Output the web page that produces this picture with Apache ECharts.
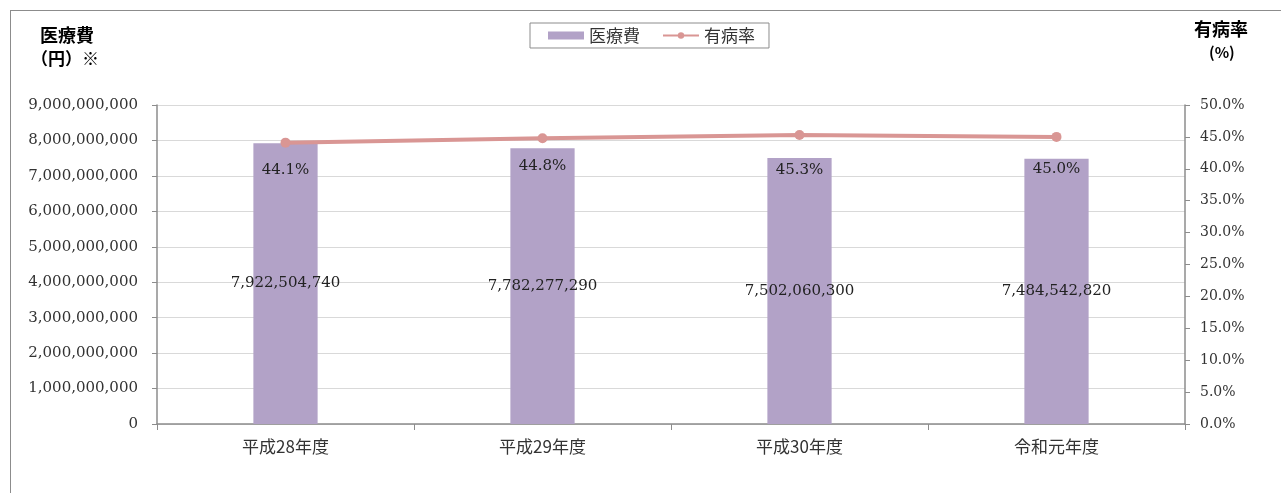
<!DOCTYPE html>
<html><head><meta charset="utf-8">
<script src="https://cdn.jsdelivr.net/npm/echarts@6/dist/echarts.min.js"></script>
<style>html,body{margin:0;padding:0;background:#fff}#frame{position:absolute;left:10px;top:10px;width:1300px;height:520px;border:1px solid #8c8c8c;box-sizing:border-box}#c{position:absolute;left:0;top:0;width:1281px;height:493px}</style>
</head><body><div id="frame"></div><div id="c"></div>
<script>
const categories = ['平成28年度','平成29年度','平成30年度','令和元年度'];
const costValues = [7922504740, 7782277290, 7502060300, 7484542820];
const rateValues = [44.1, 44.8, 45.3, 45.0];
const costName = '医療費';
const rateName = '有病率';

const serif = '"DejaVu Serif","Liberation Serif","Noto Sans CJK JP",serif';
const jp = '"Noto Sans CJK JP",sans-serif';
const labelGaps = [15, 15, 23, 20];
const chart = echarts.init(document.getElementById('c'));
chart.setOption({
  animation:false,
  textStyle:{fontFamily:serif},
  graphic:[
    {type:'text',left:40,top:26,style:{text:'医療費',font:'bold 18px '+jp,fill:'#000'}},
    {type:'text',left:31,top:50,style:{text:'（円）※',font:'bold 17px '+jp,fill:'#000'}},
    {type:'text',left:1194,top:20,style:{text:'有病率',font:'bold 18px '+jp,fill:'#000'}},
    {type:'text',left:1209,top:45,style:{text:'(%)',font:'bold 15px '+jp,fill:'#000'}}
  ],
  legend:{top:23,left:530,itemGap:22,itemWidth:36,itemHeight:8,padding:[4,14,4,18],
    borderColor:'#8c8c8c',borderWidth:1,
    textStyle:{fontFamily:jp,fontSize:17,color:'#333'},
    data:[{name:costName,icon:'rect'},{name:rateName}]},
  grid:{left:157,right:96,top:105,bottom:69,containLabel:false},
  xAxis:{type:'category',data:categories,
    axisLine:{lineStyle:{color:'#8c8c8c',width:1.5}},
    axisTick:{show:true,length:6,lineStyle:{color:'#8c8c8c'}},
    axisLabel:{fontFamily:jp,fontSize:17,color:'#333',margin:14}},
  yAxis:[
    {type:'value',min:0,max:9000000000,interval:1000000000,
     axisLine:{show:true,lineStyle:{color:'#8c8c8c',width:1.5}},
     axisTick:{show:true,length:5,lineStyle:{color:'#8c8c8c'}},
     splitLine:{lineStyle:{color:'#d9d9d9',width:1.2}},
     axisLabel:{fontFamily:serif,fontSize:15,color:'#333',margin:19,
       formatter:v=>v.toLocaleString('en-US')}},
    {type:'value',min:0,max:50,interval:5,position:'right',
     axisLine:{show:true,lineStyle:{color:'#8c8c8c',width:1.5}},
     axisTick:{show:true,length:5,lineStyle:{color:'#8c8c8c'}},
     splitLine:{show:false},
     axisLabel:{fontFamily:serif,fontSize:14,color:'#333',margin:15,
       formatter:v=>v.toFixed(1)+'%'}}
  ],
  series:[
    {name:costName,type:'bar',data:costValues,barWidth:'25%',
     itemStyle:{color:'#b2a2c7'},
     label:{show:true,position:'inside',fontFamily:serif,fontSize:15,color:'#222',
       formatter:p=>p.value.toLocaleString('en-US')}},
    {name:rateName,type:'line',yAxisIndex:1,
     data:rateValues.map((v,i)=>({value:v,label:{distance:labelGaps[i]}})),
     symbol:'circle',symbolSize:10,
     lineStyle:{color:'#d99694',width:4},itemStyle:{color:'#d99694'},
     label:{show:true,position:'bottom',distance:15,fontFamily:serif,fontSize:15,color:'#222',
       formatter:p=>p.value.toFixed(1)+'%'}}
  ]
});
</script></body></html>
